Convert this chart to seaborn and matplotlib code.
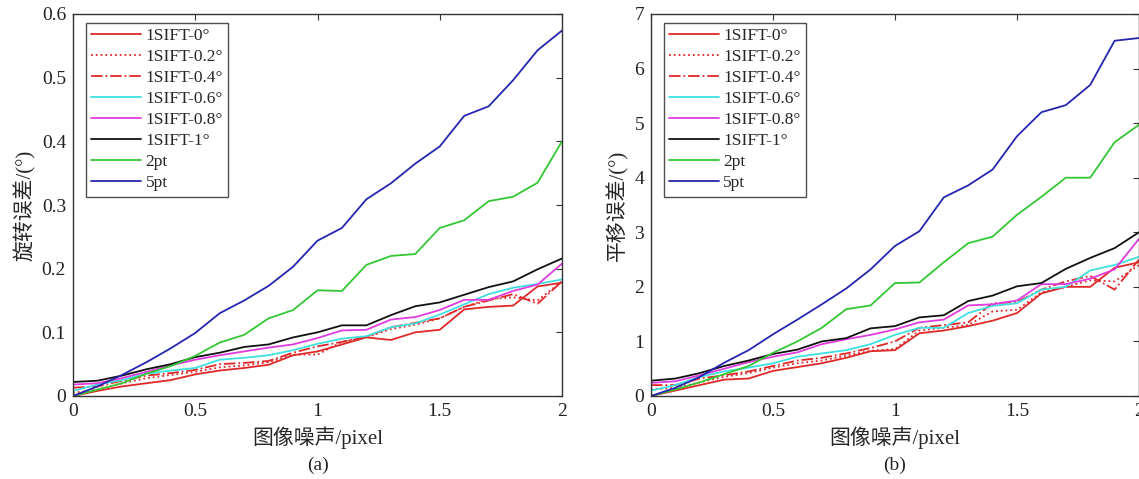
import matplotlib
matplotlib.use("Agg")
import matplotlib.pyplot as plt
import seaborn as sns
import pandas as pd

noise = [0.0, 0.1, 0.2, 0.3, 0.4, 0.5, 0.6, 0.7, 0.8, 0.9, 1.0,
         1.1, 1.2, 1.3, 1.4, 1.5, 1.6, 1.7, 1.8, 1.9, 2.0]

labels = ['1SIFT-0°', '1SIFT-0.2°', '1SIFT-0.4°', '1SIFT-0.6°',
          '1SIFT-0.8°', '1SIFT-1°', '2pt', '5pt']

# (a) 旋转误差
rot_0 = [0.0, 0.008, 0.015, 0.02, 0.025, 0.034, 0.04, 0.044, 0.049, 0.064, 0.07,
         0.081, 0.092, 0.088, 0.1, 0.104, 0.136, 0.14, 0.142, 0.172, 0.178]
rot_02 = [0.005, 0.01, 0.02, 0.028, 0.033, 0.038, 0.045, 0.048, 0.053, 0.065, 0.065,
          0.085, 0.092, 0.105, 0.112, 0.122, 0.14, 0.152, 0.155, 0.15, 0.18]
rot_04 = [0.013, 0.015, 0.024, 0.032, 0.036, 0.041, 0.05, 0.052, 0.055, 0.068, 0.078,
          0.085, 0.093, 0.108, 0.115, 0.122, 0.14, 0.15, 0.16, 0.145, 0.18]
rot_06 = [0.008, 0.018, 0.025, 0.035, 0.04, 0.044, 0.057, 0.06, 0.064, 0.072, 0.082,
          0.09, 0.094, 0.108, 0.114, 0.128, 0.144, 0.16, 0.17, 0.176, 0.183]
rot_08 = [0.018, 0.02, 0.028, 0.038, 0.048, 0.057, 0.064, 0.07, 0.076, 0.081, 0.091,
          0.103, 0.104, 0.12, 0.124, 0.135, 0.151, 0.151, 0.165, 0.175, 0.208]
rot_1 = [0.022, 0.024, 0.032, 0.042, 0.05, 0.061, 0.068, 0.077, 0.081, 0.092, 0.1,
         0.111, 0.111, 0.127, 0.141, 0.147, 0.159, 0.171, 0.18, 0.199, 0.216]
rot_2pt = [0.0, 0.01, 0.02, 0.035, 0.047, 0.063, 0.084, 0.096, 0.122, 0.135, 0.166,
           0.165, 0.206, 0.22, 0.223, 0.264, 0.276, 0.306, 0.313, 0.335, 0.40]
rot_5pt = [0.0, 0.015, 0.033, 0.053, 0.075, 0.099, 0.13, 0.15, 0.173, 0.203, 0.244,
           0.264, 0.309, 0.334, 0.365, 0.392, 0.44, 0.455, 0.496, 0.543, 0.574]

# (b) 平移误差
tr_0 = [0.0, 0.1, 0.2, 0.3, 0.32, 0.46, 0.53, 0.6, 0.7, 0.82, 0.84,
        1.15, 1.2, 1.28, 1.38, 1.52, 1.88, 2.0, 2.0, 2.35, 2.45]
tr_02 = [0.12, 0.15, 0.25, 0.35, 0.42, 0.52, 0.6, 0.65, 0.74, 0.83, 0.86,
         1.2, 1.25, 1.3, 1.55, 1.58, 1.9, 2.0, 2.12, 2.1, 2.4]
tr_04 = [0.2, 0.2, 0.32, 0.38, 0.45, 0.55, 0.65, 0.7, 0.78, 0.88, 1.0,
         1.25, 1.3, 1.35, 1.7, 1.72, 1.95, 2.1, 2.2, 1.95, 2.5]
tr_06 = [0.1, 0.2, 0.35, 0.45, 0.52, 0.6, 0.72, 0.78, 0.84, 0.95, 1.12,
         1.25, 1.25, 1.52, 1.65, 1.7, 1.95, 2.0, 2.3, 2.4, 2.55]
tr_08 = [0.24, 0.27, 0.38, 0.5, 0.62, 0.72, 0.8, 0.95, 1.04, 1.12, 1.22,
         1.35, 1.4, 1.66, 1.68, 1.75, 2.05, 2.05, 2.15, 2.32, 2.88]
tr_1 = [0.28, 0.32, 0.42, 0.55, 0.65, 0.77, 0.85, 1.0, 1.06, 1.24, 1.28,
        1.44, 1.48, 1.74, 1.84, 2.01, 2.07, 2.33, 2.53, 2.71, 3.0]
tr_2pt = [0.0, 0.12, 0.25, 0.4, 0.55, 0.79, 1.0, 1.25, 1.59, 1.66, 2.07,
          2.08, 2.45, 2.8, 2.92, 3.32, 3.65, 4.0, 4.0, 4.65, 4.97]
tr_5pt = [0.0, 0.15, 0.35, 0.61, 0.84, 1.13, 1.4, 1.68, 1.97, 2.32, 2.75,
          3.02, 3.64, 3.86, 4.15, 4.76, 5.2, 5.33, 5.7, 6.51, 6.56]

colors = ['#e02828', '#e02828', '#e02828', '#3ee0e0',
          '#e03ce0', '#111111', '#33c733', '#2525b0']
styles = ['-', ':', '-.', '-', '-', '-', '-', '-']

sns.set_style('white')
plt.rcParams['font.family'] = ['Liberation Serif', 'Noto Sans CJK SC']
plt.rcParams['axes.unicode_minus'] = False

fig = plt.figure(figsize=(11.39, 4.79), dpi=100)
ax_a = fig.add_axes([73 / 1139, 83 / 479, 489 / 1139, 382 / 479])
ax_b = fig.add_axes([651 / 1139, 83 / 479, 488 / 1139, 382 / 479])

panels = [
    (ax_a, [rot_0, rot_02, rot_04, rot_06, rot_08, rot_1, rot_2pt, rot_5pt],
     '旋转误差/(°)', 0.6, 0.1, '(a)'),
    (ax_b, [tr_0, tr_02, tr_04, tr_06, tr_08, tr_1, tr_2pt, tr_5pt],
     '平移误差/(°)', 7, 1, '(b)'),
]

for ax, series, ylabel, ymax, ystep, tag in panels:
    for vals, lab, c, ls in zip(series, labels, colors, styles):
        df = pd.DataFrame({'噪声': noise, '误差': vals})
        sns.lineplot(data=df, x='噪声', y='误差', ax=ax, color=c,
                     linestyle=ls, linewidth=1.3, label=lab)
    ax.set_xlim(0, 2)
    ax.set_ylim(0, ymax)
    ax.set_xticks([0, 0.5, 1, 1.5, 2])
    ax.set_xticklabels(['0', '0.5', '1', '1.5', '2'])
    yt = [round(i * ystep, 1) for i in range(int(round(ymax / ystep)) + 1)]
    ax.set_yticks(yt)
    ax.set_yticklabels([('%g' % v) for v in yt])
    ax.tick_params(direction='in', length=4, width=0.8, labelsize=14, pad=5,
                   top=True, right=True, colors='#333333', labelcolor='#222222')
    for sp in ax.spines.values():
        sp.set_color('#333333')
        sp.set_linewidth(1.0)
    ax.set_xlabel('图像噪声/pixel', fontsize=15, labelpad=5)
    ax.set_ylabel(ylabel, fontsize=15, labelpad=4)
    ax.text(0.5, -0.16, tag, transform=ax.transAxes, ha='center', va='top',
            fontsize=14)
    leg = ax.legend(loc='upper left', bbox_to_anchor=(0.015, 0.99),
                    fontsize=12.5, handlelength=2.9, handletextpad=0.25,
                    labelspacing=0.28, borderpad=0.3, frameon=True,
                    fancybox=False, borderaxespad=0.3)
    leg.get_frame().set_edgecolor('#222222')
    leg.get_frame().set_linewidth(1.0)

fig.savefig('out.png', dpi=100)
